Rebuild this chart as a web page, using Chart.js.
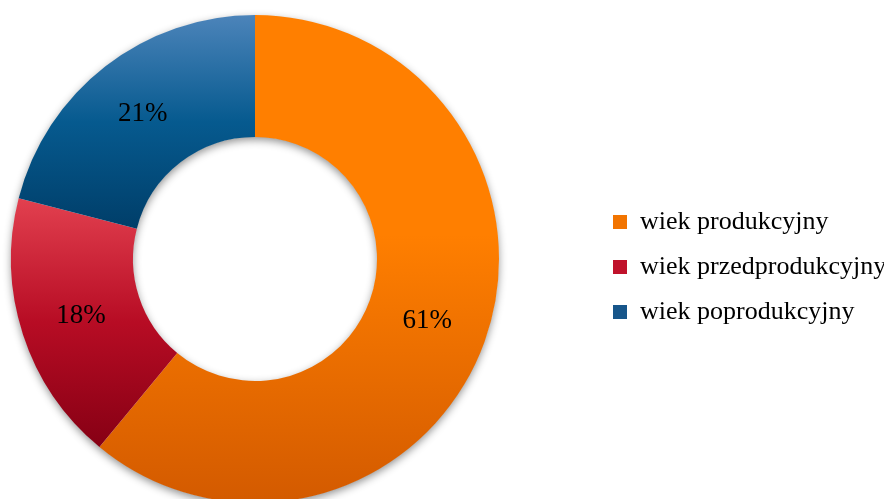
<!DOCTYPE html>
<html>
<head>
<meta charset="utf-8">
<script src="https://cdn.jsdelivr.net/npm/chart.js@4.4.1/dist/chart.umd.min.js"></script>
<style>
  html, body { margin: 0; padding: 0; background: #fff; overflow: hidden; }
  /* canvas starts left of the page so the ring sits where the original does */
  #wrap { width: 975px; height: 503px; position: absolute; left: -84px; top: 0; }
</style>
</head>
<body>
<div id="wrap"><canvas id="mycanvas"></canvas></div>
<script>
// data
var labels = ['wiek produkcyjny', 'wiek przedprodukcyjny', 'wiek poprodukcyjny'];
var values = [61, 18, 21];

// colours: stops of each slice's vertical gradient
var gradStops = [
    [[0, '#FF7F00'], [0.45, '#FF7F00'], [1, '#D35A00']],
    [[0, '#E2404F'], [0.5, '#B70C24'], [1, '#860014']],
    [[0, '#4C84BA'], [0.5, '#065A8F'], [1, '#003E69']]
];
var legendColors = ['#F27400', '#C0122B', '#17568A'];

Chart.defaults.color = '#000';

// vertical extent of slice i, sampled from the arc geometry
function sliceGradient(chart, i) {
    var area = chart.chartArea;
    if (!area) return legendColors[i];
    var cx = (area.left + area.right) / 2;
    var cy = (area.top + area.bottom) / 2;
    var outer = Math.min(area.right - area.left, area.bottom - area.top) / 2;
    var inner = outer * 0.5;
    var total = values.reduce(function(a, b) { return a + b; }, 0);
    var before = 0;
    for (var k = 0; k < i; k++) before += values[k];
    var a0 = -Math.PI / 2 + before / total * Math.PI * 2;
    var a1 = a0 + values[i] / total * Math.PI * 2;
    var yMin = Infinity, yMax = -Infinity;
    for (var s = 0; s <= 100; s++) {
        var a = a0 + (a1 - a0) * s / 100;
        [inner, outer].forEach(function(r) {
            var y = cy + r * Math.sin(a);
            yMin = Math.min(yMin, y);
            yMax = Math.max(yMax, y);
        });
    }
    var g = chart.ctx.createLinearGradient(0, yMin, 0, yMax);
    gradStops[i].forEach(function(st) { g.addColorStop(st[0], st[1]); });
    return g;
}

// soft shadow under the whole ring
var ringShadow = {
    id: 'ringShadow',
    beforeDatasetsDraw: function(chart) {
        var arc = chart.getDatasetMeta(0).data[0];
        if (!arc) return;
        var ctx = chart.ctx;
        ctx.save();
        ctx.shadowColor = 'rgba(0,0,0,0.45)';
        ctx.shadowBlur = 8;
        ctx.shadowOffsetY = 3;
        ctx.fillStyle = '#fff';
        ctx.beginPath();
        ctx.arc(arc.x, arc.y, arc.outerRadius - 0.5, 0, Math.PI * 2);
        ctx.arc(arc.x, arc.y, arc.innerRadius + 0.5, 0, Math.PI * 2, true);
        ctx.fill('evenodd');
        ctx.restore();
    }
};

// percentage labels in the middle of each slice
var sliceLabels = {
    id: 'sliceLabels',
    afterDatasetsDraw: function(chart) {
        var ctx = chart.ctx;
        ctx.save();
        ctx.font = '27px "Liberation Serif", "Times New Roman", serif';
        ctx.fillStyle = '#000';
        ctx.textAlign = 'center';
        ctx.textBaseline = 'middle';
        chart.getDatasetMeta(0).data.forEach(function(el, i) {
            var p = el.tooltipPosition();
            ctx.fillText(values[i] + '%', p.x, p.y);
        });
        ctx.restore();
    }
};

var chart1 = new Chart(document.getElementById('mycanvas'), {
    type: 'doughnut',
    data: {
        labels: labels,
        datasets: [{
            data: values,
            backgroundColor: function(c) { return sliceGradient(c.chart, c.dataIndex); },
            borderWidth: 0
        }]
    },
    options: {
        responsive: true,
        maintainAspectRatio: false,
        animation: false,
        cutout: '50%',
        layout: { padding: { top: 15, left: 0, right: 7, bottom: 0 } },
        plugins: {
            tooltip: { enabled: false },
            legend: {
                display: true,
                position: 'right',
                maxWidth: 290,
                title: { display: true, text: ' ', font: { size: 16, lineHeight: 1 } },
                labels: {
                    boxWidth: 14,
                    boxHeight: 14,
                    padding: 19,
                    color: '#000',
                    font: { family: '"Liberation Serif", "Times New Roman", serif', size: 26 },
                    generateLabels: function(chart) {
                        return labels.map(function(l, i) {
                            return {
                                text: l,
                                fillStyle: legendColors[i],
                                strokeStyle: legendColors[i],
                                fontColor: '#000',
                                lineWidth: 0,
                                hidden: false,
                                index: i
                            };
                        });
                    }
                }
            }
        }
    },
    plugins: [ringShadow, sliceLabels]
});
</script>
</body>
</html>
